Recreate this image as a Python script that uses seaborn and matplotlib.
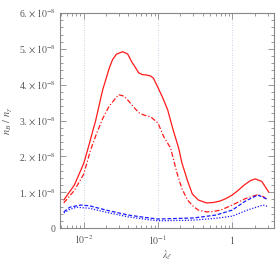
"""Baryon asymmetry n_B/n_gamma versus lambda_l (four scenarios)."""

import matplotlib

matplotlib.use("Agg")
import matplotlib.pyplot as plt
import numpy as np
import pandas as pd
import seaborn as sns
from matplotlib.ticker import FixedLocator, LogLocator, NullFormatter

SCALE = 1e-8

# red solid
lam_a = [0.0054, 0.0075, 0.01, 0.0113, 0.0145, 0.018, 0.022, 0.0245, 0.0276, 0.0334,
         0.039, 0.044, 0.05, 0.055, 0.062, 0.070, 0.08, 0.087, 0.1, 0.115,
         0.135, 0.16, 0.19, 0.21, 0.25, 0.29, 0.35, 0.45, 0.55, 0.68,
         0.82, 1.0, 1.2, 1.45, 1.75, 2.04, 2.5, 3.1]
nb_a = [0.78, 1.2, 1.8, 2.18, 3.0, 3.85, 4.45, 4.7, 4.85, 4.92,
        4.86, 4.65, 4.47, 4.33, 4.28, 4.27, 4.24, 4.18, 3.92, 3.65,
        3.30, 2.74, 2.23, 1.82, 1.32, 0.95, 0.78, 0.70, 0.71, 0.75,
        0.82, 0.92, 1.05, 1.2, 1.32, 1.37, 1.3, 1.0]

# red dot-dashed
lam_b = [0.0054, 0.0075, 0.01, 0.0124, 0.015, 0.018, 0.022, 0.0295, 0.035, 0.04,
         0.047, 0.055, 0.065, 0.08, 0.1, 0.12, 0.148, 0.18, 0.21, 0.25,
         0.3, 0.35, 0.45, 0.55, 0.7, 1.0, 1.5, 2.2, 2.6, 3.0]
nb_b = [0.70, 1.05, 1.5, 2.18, 2.65, 3.05, 3.4, 3.72, 3.68, 3.55,
        3.38, 3.22, 3.15, 3.10, 2.93, 2.54, 2.23, 1.54, 1.1, 0.78,
        0.6, 0.5, 0.45, 0.46, 0.50, 0.64, 0.82, 0.93, 0.88, 0.78]

# blue dashed
lam_c = [0.0054, 0.0065, 0.0091, 0.012, 0.02, 0.04, 0.07, 0.1, 0.3, 0.6,
         1.0, 1.5, 2.2, 3.0]
nb_c = [0.45, 0.58, 0.64, 0.62, 0.50, 0.36, 0.29, 0.25, 0.28, 0.36,
        0.50, 0.75, 0.92, 0.80]

# blue dotted
lam_d = [0.0054, 0.0065, 0.008, 0.012, 0.02, 0.04, 0.07, 0.1, 0.3, 0.6,
         1.0, 1.6, 2.6, 3.0]
nb_d = [0.42, 0.52, 0.58, 0.55, 0.44, 0.31, 0.24, 0.20, 0.22, 0.27,
        0.33, 0.50, 0.64, 0.60]

sns.set_style("ticks")
plt.rcParams["font.family"] = ["Liberation Serif", "DejaVu Serif"]
plt.rcParams["mathtext.fontset"] = "stix"

GRAY = "#555555"
FRAME = "#888888"

fig = plt.figure(figsize=(2.76, 2.61), dpi=100)
ax = fig.add_axes([60 / 276, 1 - 228 / 261, 214 / 276, 215 / 261])

series = [
    (lam_a, nb_a, "#ff1a1a", "-"),
    (lam_b, nb_b, "#ff1a1a", (0, (4, 1.6, 1, 1.6))),
    (lam_c, nb_c, "#1a1aff", (0, (3, 1.5))),
    (lam_d, nb_d, "#1a1aff", (0, (1, 1.3))),
]
for lam, nb, col, ls in series:
    df = pd.DataFrame({"lam": lam, "nb": np.array(nb) * SCALE})
    sns.lineplot(data=df, x="lam", y="nb", color=col, linestyle=ls, lw=0.9,
                 ax=ax, legend=False)

ax.set_xscale("log")
ax.set_xlim(0.0048, 3.65)
ax.set_ylim(0, 6e-8)

ax.set_xticks([0.01, 0.1, 1])
ax.set_xticklabels([r"$10^{-2}$", r"$10^{-1}$", r"$1$"])
ax.xaxis.set_minor_locator(LogLocator(base=10, subs=np.arange(2, 10)))
ax.xaxis.set_minor_formatter(NullFormatter())

yt = [0, 1, 2, 3, 4, 5, 6]
ax.set_yticks([v * SCALE for v in yt])
ax.set_yticklabels(["0"] + [rf"{v}. $\times\,10^{{-8}}$" for v in yt[1:]])
ax.yaxis.set_minor_locator(FixedLocator(np.arange(0, 6.01, 0.2) * SCALE))

ax.tick_params(which="both", direction="in", top=True, right=True,
               color=FRAME, labelcolor=GRAY, labelsize=7, width=0.6)
ax.tick_params(which="major", length=4)
ax.tick_params(which="minor", length=2)
ax.tick_params(axis="y", pad=3)
ax.tick_params(axis="x", pad=4)

for sp in ax.spines.values():
    sp.set_color(FRAME)
    sp.set_linewidth(0.8)

ax.xaxis.grid(True, which="major", ls=(0, (1, 2)), color="#b8c6dc", lw=0.6)
ax.yaxis.grid(False)

ax.set_xlabel(r"$\lambda_\ell$", color=GRAY, fontsize=7)
ax.xaxis.set_label_coords(0.5, -0.095)
ax.set_ylabel(r"$n_B\ /\ n_\gamma$", color=GRAY, fontsize=7.5, labelpad=3)

fig.savefig("out.png", dpi=100)
